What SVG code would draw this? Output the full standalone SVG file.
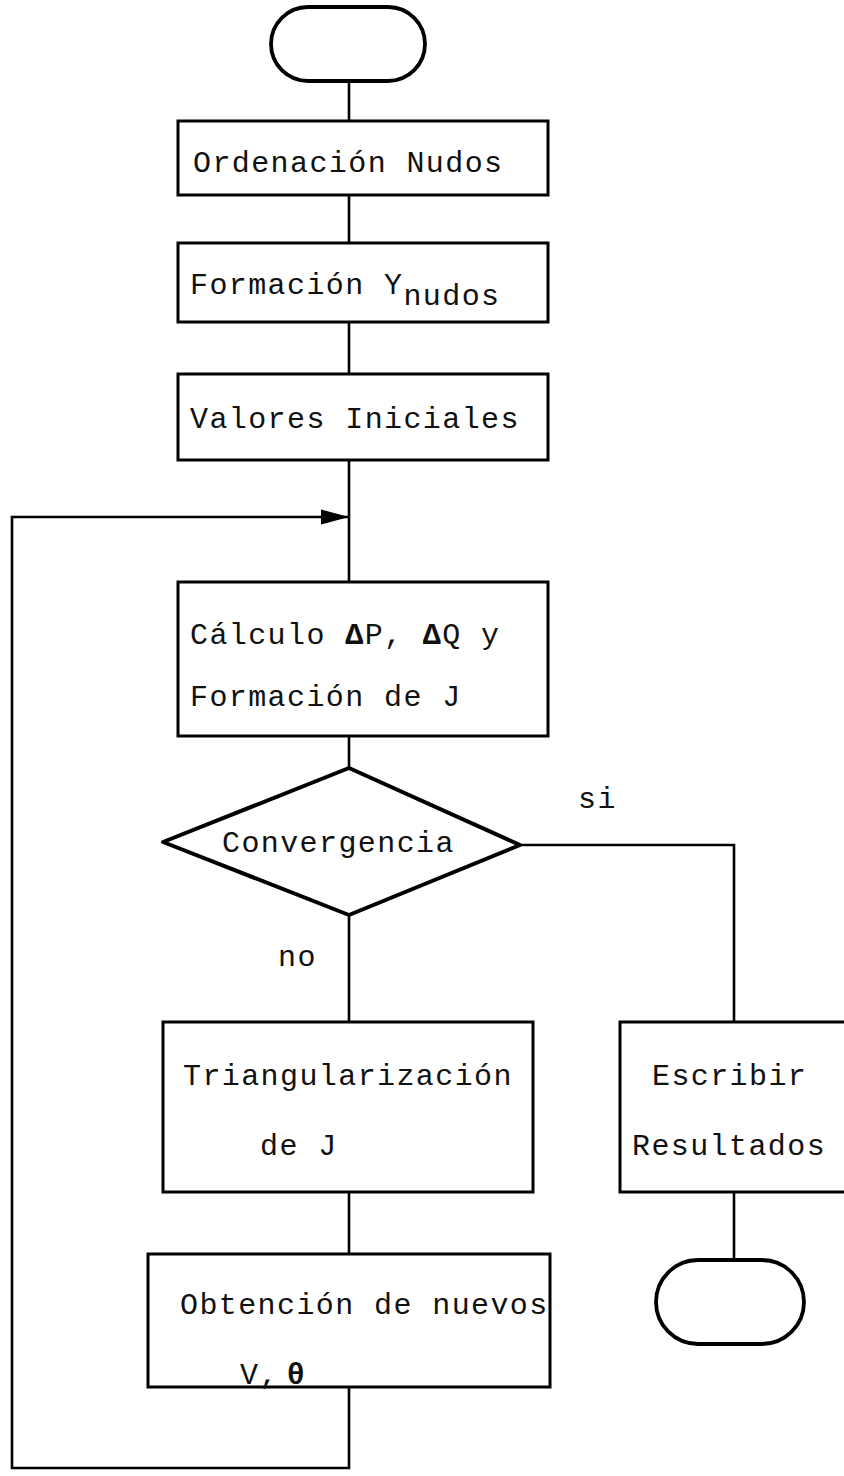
<svg xmlns="http://www.w3.org/2000/svg" width="844" height="1476" viewBox="0 0 844 1476">
  <style>
    .box { fill: #ffffff; stroke: #000000; stroke-width: 3; }
    .dec { fill: #ffffff; stroke: #000000; stroke-width: 4; stroke-linejoin: round; }
    .term { fill: #ffffff; stroke: #000000; stroke-width: 3.8; }
    .wire { fill: none; stroke: #000000; stroke-width: 2.6; stroke-linejoin: miter; }
    .t { font-family: "Liberation Mono", "DejaVu Sans Mono", monospace; font-size: 30px; letter-spacing: 1.4px; fill: #111111; }
    .g { font-weight: bold; }
  </style>
  <defs>
    <marker id="arrow" viewBox="0 0 28 16" refX="28" refY="8" markerWidth="28" markerHeight="16" markerUnits="userSpaceOnUse" orient="auto">
      <path d="M0,0.5 L28,8 L0,15.5 Z" fill="#000000"/>
    </marker>
  </defs>
  <rect width="844" height="1476" fill="#ffffff"/>

  <!-- connectors -->
  <g id="connectors">
    <path class="wire" d="M349,81 V121"/>
    <path class="wire" d="M349,195 V243"/>
    <path class="wire" d="M349,322 V374"/>
    <path class="wire" d="M349,460 V582"/>
    <path class="wire" d="M349,736 V768"/>
    <path class="wire" d="M349,915 V1022"/>
    <path class="wire" d="M520,845 H734 V1022"/>
    <path class="wire" d="M734,1192 V1260"/>
    <path class="wire" d="M349,1192 V1254"/>
    <path class="wire" d="M349,1387 V1468 H12 V517 H349" marker-end="url(#arrow)"/>
    <text class="t" x="578" y="808">si</text>
    <text class="t" x="278" y="966">no</text>
  </g>

  <g id="start">
    <rect class="term" x="271" y="7" width="154" height="74" rx="37" ry="37"/>
  </g>

  <g id="ordenacion">
    <rect class="box" x="178" y="121" width="370" height="74"/>
    <text class="t" x="193" y="172">Ordenación Nudos</text>
  </g>

  <g id="formacion-y">
    <rect class="box" x="178" y="243" width="370" height="79"/>
    <text class="t" x="190" y="294">Formación Y<tspan dy="11">nudos</tspan></text>
  </g>

  <g id="valores">
    <rect class="box" x="178" y="374" width="370" height="86"/>
    <text class="t" x="190" y="428">Valores Iniciales</text>
  </g>

  <g id="calculo">
    <rect class="box" x="178" y="582" width="370" height="154"/>
    <text class="t" x="190" y="644">Cálculo  <tspan class="g">Δ</tspan>P,  <tspan class="g">Δ</tspan>Q y</text>
    <text class="t" x="190" y="706">Formación de J</text>
  </g>

  <g id="convergencia">
    <path class="dec" d="M349,768 L520,845 L349,915 L163,842 Z"/>
    <text class="t" x="222" y="852">Convergencia</text>
  </g>

  <g id="triangularizacion">
    <rect class="box" x="163" y="1022" width="370" height="170"/>
    <text class="t" x="183" y="1085">Triangularización</text>
    <text class="t" x="260" y="1155">de J</text>
  </g>

  <g id="escribir">
    <rect class="box" x="620" y="1022" width="236" height="170"/>
    <text class="t" x="652" y="1085">Escribir</text>
    <text class="t" x="632" y="1155">Resultados</text>
  </g>

  <g id="obtencion">
    <rect class="box" x="148" y="1254" width="402" height="133"/>
    <text class="t" x="180" y="1314">Obtención de nuevos</text>
    <text class="t" x="240" y="1384">V,<tspan class="g" dx="8">θ</tspan></text>
  </g>

  <g id="end">
    <rect class="term" x="656" y="1260" width="148" height="84" rx="42" ry="42"/>
  </g>
</svg>
